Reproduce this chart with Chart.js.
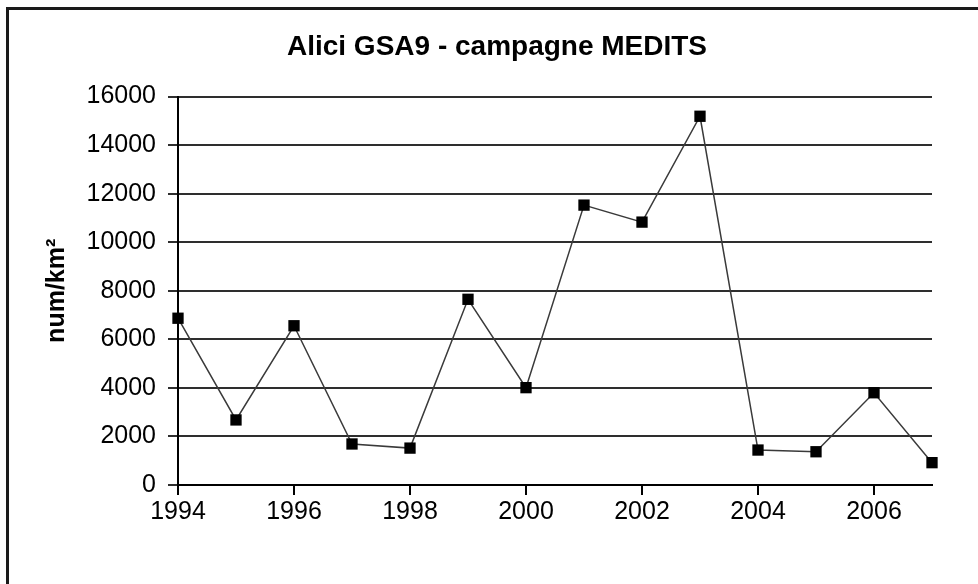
<!DOCTYPE html>
<html>
<head>
<meta charset="utf-8">
<script src="https://cdn.jsdelivr.net/npm/chart.js@4/dist/chart.umd.min.js"></script>
<style>
  html, body { margin:0; padding:0; background:#fff; }
  #wrap { position:relative; width:978px; height:584px; }
  #frame { position:absolute; left:6px; top:7px; width:990px; height:600px;
           border-left:3px solid #1a1a1a; border-top:3px solid #1a1a1a; pointer-events:none; }
</style>
</head>
<body>
<div id="wrap">
  <canvas id="chart" width="978" height="584"></canvas>
  <div id="frame"></div>
</div>
<script>
// Alici GSA9 - MEDITS survey, density per year
const years  = [1994, 1995, 1996, 1997, 1998, 1999, 2000, 2001, 2002, 2003, 2004, 2005, 2006, 2007];
const values = [6870, 2680, 6560, 1690, 1520, 7650, 4010, 11530, 10830, 15190, 1440, 1370, 3800, 920];
const xTicks = [1994, 1996, 1998, 2000, 2002, 2004, 2006];

const FONT = '"Liberation Sans", Arial, sans-serif';

new Chart(document.getElementById('chart'), {
  type: 'line',
  data: {
    datasets: [{
      data: years.map((y, i) => ({ x: y, y: values[i] })),
      borderColor: '#3a3a3a',
      borderWidth: 1.5,
      pointStyle: 'rect',
      pointRadius: 8,
      pointBackgroundColor: '#000',
      pointBorderColor: '#000',
      pointBorderWidth: 0,
      tension: 0,
      clip: false
    }]
  },
  options: {
    responsive: false,
    animation: false,
    layout: { padding: { left: 16, right: 0, top: 0, bottom: 0 } },
    plugins: {
      legend: { display: false },
      tooltip: { enabled: false },
      title: {
        display: true,
        text: 'Alici GSA9 - campagne MEDITS',
        color: '#000',
        font: { family: FONT, size: 28, weight: 'bold' },
        padding: { top: 30, bottom: 33 }
      }
    },
    scales: {
      x: {
        type: 'linear',
        min: 1994, max: 2007,
        afterBuildTicks: s => { s.ticks = xTicks.map(v => ({ value: v })); },
        afterFit: s => { s.height = 99; },
        grid: { drawOnChartArea: false, color: '#000', lineWidth: 2, tickLength: 10 },
        border: { color: '#000', width: 2 },
        ticks: { color: '#000', font: { family: FONT, size: 25 }, padding: 2, maxRotation: 0,
                 callback: v => String(v) }
      },
      y: {
        min: 0, max: 16000,
        afterFit: s => { s.width = 162; },
        grid: { color: '#2e2e2e', lineWidth: 2, tickLength: 10 },
        border: { color: '#000', width: 2 },
        ticks: { stepSize: 2000, color: '#000', font: { family: FONT, size: 25 }, padding: 12,
                 callback: v => String(v) },
        title: {
          display: true,
          text: 'num/km²',
          color: '#000',
          font: { family: FONT, size: 25, weight: 'bold' },
          padding: { top: 26, bottom: 0 }
        }
      },
      // empty right-hand spacer so the plot ends where the original does
      yRight: {
        position: 'right',
        min: 0, max: 1,
        afterFit: s => { s.width = 46; },
        grid: { display: false },
        border: { display: false },
        ticks: { display: false }
      }
    }
  }
});
</script>
</body>
</html>
